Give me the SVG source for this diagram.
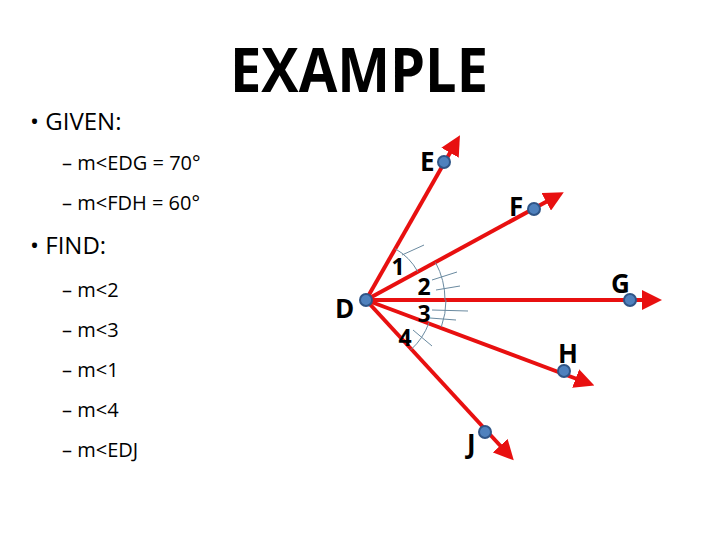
<svg xmlns="http://www.w3.org/2000/svg" width="720" height="540" viewBox="0 0 720 540">
<style>
text{font-family:"Open Sans","Liberation Sans",Arial,sans-serif;fill:#000}
.b{font-size:24px}.s{font-size:20px}.lb{font-size:26px;font-weight:bold}.n{font-size:23px;font-weight:bold}
.ray{stroke:#e81010;stroke-width:4;fill:none;marker-end:url(#ah)}
.pt{fill:#4f81bd;stroke:#2f5587;stroke-width:2}
.arc{stroke:#6a8aa0;stroke-width:1;fill:none}
</style>
<defs><marker id="ah" markerWidth="5" markerHeight="5" refX="2.5" refY="2.5" orient="auto"><path d="M0,0L5,2.5L0,5z" fill="#e81010"/></marker></defs>
<rect width="720" height="540" fill="#fff"/>
<text x="359" y="92" text-anchor="middle" textLength="258" lengthAdjust="spacingAndGlyphs" style="font-size:60px;font-weight:bold">EXAMPLE</text>
<text class="b" x="30" y="130">• GIVEN:</text>
<text class="s" x="62" y="170">– m&lt;EDG = 70°</text>
<text class="s" x="62" y="210">– m&lt;FDH = 60°</text>
<text class="b" x="30" y="254">• FIND:</text>
<text class="s" x="62" y="297">– m&lt;2</text>
<text class="s" x="62" y="337">– m&lt;3</text>
<text class="s" x="62" y="377">– m&lt;1</text>
<text class="s" x="62" y="417">– m&lt;4</text>
<text class="s" x="62" y="457">– m&lt;EDJ</text>
<g id="connectors">
<path class="ray" d="M366,300L455,144"/>
<path class="ray" d="M366,300L555,197"/>
<path class="ray" d="M366,300L652,300"/>
<path class="ray" d="M366,300L585,382"/>
<path class="ray" d="M366,300L507,453"/>
</g>
<g id="arcs">
<path class="arc" d="M395,248.6A59,59 0 0 1 417.9,271.9"/>
<path class="arc" d="M402,255L424,245"/>
<path class="arc" d="M435.5,262.4A79,79 0 0 1 445,300"/>
<path class="arc" d="M432,280L457,272M436,290L460,286"/>
<path class="arc" d="M446,300A80,80 0 0 1 441.3,327"/>
<path class="arc" d="M432,310L468,311M430,318L456,320"/>
<path class="arc" d="M429,322.6A67,67 0 0 1 410.8,349.8"/>
<path class="arc" d="M413,330L432,346"/>
</g>
<g id="D"><circle class="pt" cx="366" cy="300" r="6"/><text class="lb" x="335" y="318">D</text></g>
<g id="E"><circle class="pt" cx="444" cy="162" r="6"/><text class="lb" x="420" y="171">E</text></g>
<g id="F"><circle class="pt" cx="534" cy="209" r="6"/><text class="lb" x="509" y="216">F</text></g>
<g id="G"><circle class="pt" cx="630" cy="300" r="6"/><text class="lb" x="611" y="293">G</text></g>
<g id="H"><circle class="pt" cx="564" cy="371" r="6"/><text class="lb" x="558" y="363">H</text></g>
<g id="J"><circle class="pt" cx="485" cy="432" r="6"/><text class="lb" x="467" y="453">J</text></g>
<g id="labels">
<text class="n" x="398" y="275" text-anchor="middle">1</text>
<text class="n" x="424" y="295" text-anchor="middle">2</text>
<text class="n" x="424" y="322" text-anchor="middle">3</text>
<text class="n" x="405" y="346" text-anchor="middle">4</text>
</g>
</svg>
